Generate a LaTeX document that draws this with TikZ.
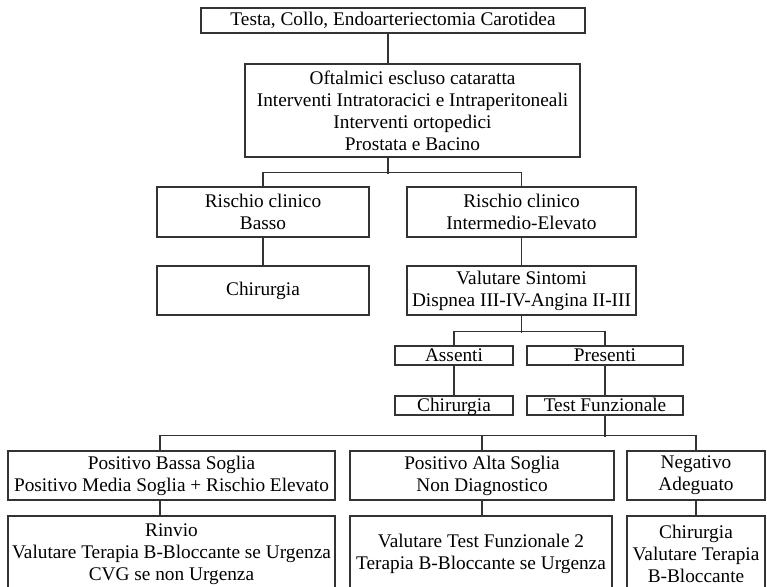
\documentclass[tikz,border=0pt]{standalone}
\usepackage{fontspec}
\setmainfont{Liberation Serif}

\begin{document}
\begin{tikzpicture}[x=1pt,y=-1pt,line width=1.3pt,
  box/.style={draw=black!80,align=center,inner sep=0pt,
    font=\fontsize{19.3}{22}\selectfont},
  slim/.style={box,minimum height=19,text height=14.5pt,text depth=3.5pt},
  wire/.style={draw=black!80}]
  \clip (0,0) rectangle (767,586);
  \coordinate (spine) at (388,0);
  % livelli superiori
  \node[box,minimum width=384,minimum height=25] (testa) at (393,20.5)
    {Testa, Collo, Endoarteriectomia Carotidea};
  \node[box,minimum width=335,minimum height=93] (oft) at (412.5,110.5)
    {Oftalmici escluso cataratta\\Interventi Intratoracici e Intraperitoneali\\
     Interventi ortopedici\\Prostata e Bacino};
  \node[box,minimum width=212,minimum height=50] (rb) at (263,212)
    {Rischio clinico\\Basso};
  \node[box,minimum width=229,minimum height=50] (ri) at (521.5,212)
    {Rischio clinico\\Intermedio-Elevato};
  \node[box,minimum width=212,minimum height=49] (chir1) at (263,290.5)
    {Chirurgia};
  \node[box,minimum width=229,minimum height=49] (vs) at (521.5,290.5)
    {Valutare Sintomi\\Dispnea III-IV-Angina II-III};
  \node[slim,minimum width=118] (ass) at (454,355.5) {Assenti};
  \node[slim,minimum width=156] (pres) at (605,355.5) {Presenti};
  \node[slim,minimum width=118] (chir2) at (454,405.5) {Chirurgia};
  \node[slim,minimum width=156] (tf) at (605,405.5) {Test Funzionale};
  % esiti del test
  \node[box,minimum width=327,minimum height=49] (pbs) at (171.5,475.5)
    {Positivo Bassa Soglia\\Positivo Media Soglia + Rischio Elevato};
  \node[box,minimum width=264,minimum height=49] (pas) at (482,475.5)
    {Positivo Alta Soglia\\Non Diagnostico};
  \node[box,minimum width=138,minimum height=49] (neg) at (696,475.5)
    {Negativo\\Adeguato};
  \node[box,minimum width=327,minimum height=76] (rinv) at (171.5,554)
    {Rinvio\\Valutare Terapia B-Bloccante se Urgenza\\CVG se non Urgenza};
  \node[box,minimum width=262,minimum height=76] (vtf) at (481,554)
    {Valutare Test Funzionale 2\\Terapia B-Bloccante se Urgenza};
  \node[box,minimum width=138,minimum height=76] (chir3) at (696,554)
    {Chirurgia\\Valutare Terapia\\B-Bloccante};
  % connettori
  \draw[wire] (testa.south -| spine) -- (oft.north -| spine);
  \draw[wire] (oft.south -| spine) -- ++(0,16);
  \draw[wire] (rb.north) -- ++(0,-14) -| (ri.north);
  \draw[wire] (rb.south) -- (chir1.north);
  \draw[wire] (ri.south) -- (vs.north);
  \draw[wire] (vs.south) -- ++(0,17);
  \draw[wire] (ass.north) -- ++(0,-14) -| (pres.north);
  \draw[wire] (ass.south) -- (chir2.north);
  \draw[wire] (pres.south) -- (tf.north);
  \draw[wire] (tf.south) -- ++(0,21);
  \draw[wire] ([xshift=-11.5]pbs.north) -- ++(0,-15) -| (neg.north);
  \draw[wire] (pas.north) -- ++(0,-15);
  \draw[wire] ([xshift=-11.5]pbs.south) -- ([xshift=-11.5]rinv.north);
  \draw[wire] (pas.south) -- (pas.south |- vtf.north);
  \draw[wire] (neg.south) -- (chir3.north);
\end{tikzpicture}
\end{document}
